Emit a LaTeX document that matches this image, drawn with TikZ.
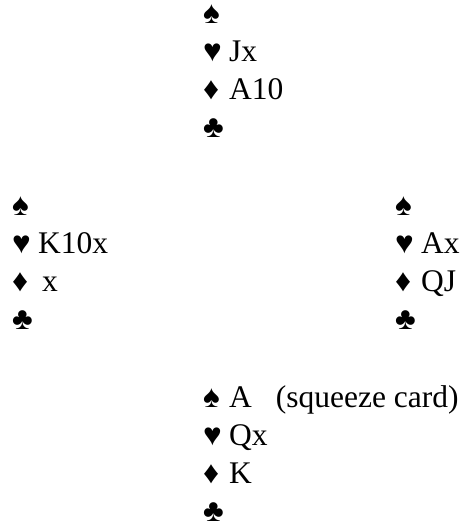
\documentclass[tikz,border=0pt]{standalone}
\usepackage{fontspec}
\setmainfont{Liberation Serif}
\newcommand{\hold}[2]{\makebox[26pt][l]{#1}#2}
\tikzset{hand/.style={anchor=base west, inner sep=0pt, font=\fontsize{31.5}{38}\selectfont}}

\begin{document}
\begin{tikzpicture}[x=1pt,y=-1pt]
\useasboundingbox (0,0) rectangle (463,525);
% north
\node[hand] (n1) at (203,23) {\hold{♠}{}};
\node[hand] (n2) at (203,61) {\hold{♥}{Jx}};
\node[hand] (n3) at (203,99) {\hold{♦}{A10}};
\node[hand] (n4) at (203,137) {\hold{♣}{}};
% west
\node[hand] (w1) at (12,215) {\hold{♠}{}};
\node[hand] (w2) at (12,253) {\hold{♥}{K10x}};
\node[hand] (w3) at (12,291) {\hold{♦}{\hspace{4pt}x}};
\node[hand] (w4) at (12,329) {\hold{♣}{}};
% east
\node[hand] (e1) at (395,215) {\hold{♠}{}};
\node[hand] (e2) at (395,253) {\hold{♥}{Ax}};
\node[hand] (e3) at (395,291) {\hold{♦}{QJ}};
\node[hand] (e4) at (395,329) {\hold{♣}{}};
% south
\node[hand] (s1) at (203,407) {\hold{♠}{A\hspace{24pt}(squeeze card)}};
\node[hand] (s2) at (203,445) {\hold{♥}{Qx}};
\node[hand] (s3) at (203,483) {\hold{♦}{K}};
\node[hand] (s4) at (203,521) {\hold{♣}{}};
\end{tikzpicture}
\end{document}
